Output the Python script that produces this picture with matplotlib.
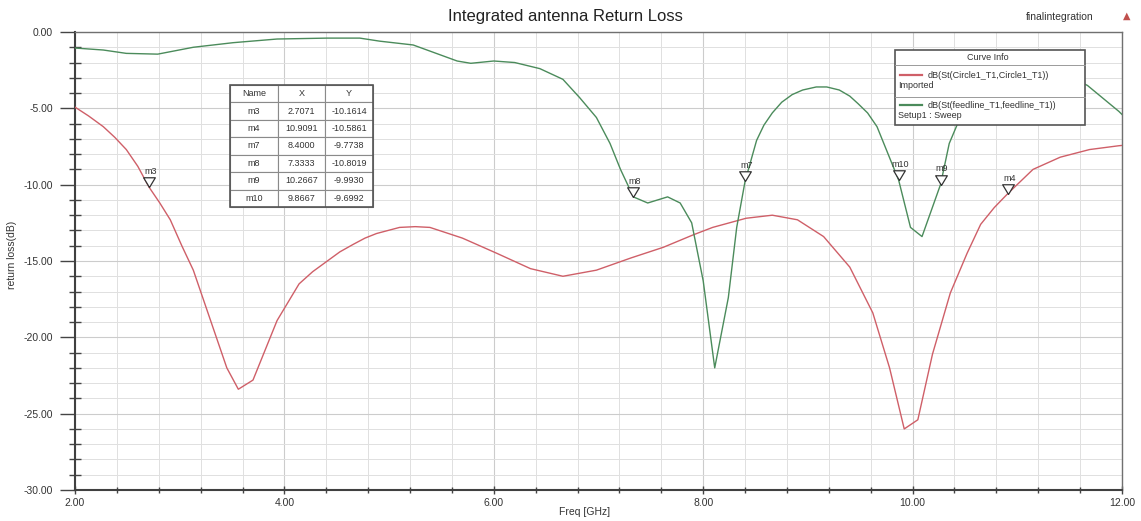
import matplotlib
matplotlib.use("Agg")
import matplotlib.pyplot as plt
from matplotlib.lines import Line2D
from matplotlib.patches import Rectangle
from matplotlib.ticker import MultipleLocator, FormatStrFormatter

# dB(St(Circle1_T1,Circle1_T1)) - Imported
freq_imported = [2.0, 2.13, 2.27, 2.38, 2.49, 2.6, 2.7071, 2.81, 2.91, 3.02,
                 3.13, 3.32, 3.45, 3.56, 3.70, 3.93, 4.14, 4.27, 4.41, 4.53,
                 4.66, 4.77, 4.88, 4.99, 5.10, 5.25, 5.39, 5.70, 6.03, 6.35,
                 6.66, 6.98, 7.31, 7.62, 7.90, 8.09, 8.41, 8.66, 8.90, 9.15,
                 9.40, 9.62, 9.78, 9.92, 10.05, 10.19, 10.36, 10.52, 10.65,
                 10.78, 10.9091, 11.15, 11.41, 11.69, 11.97, 12.0]
rl_imported = [-4.92, -5.5, -6.2, -6.9, -7.7, -8.8, -10.1614, -11.2, -12.3,
               -14.0, -15.6, -19.4, -22.0, -23.4, -22.8, -18.9, -16.5, -15.7,
               -15.0, -14.4, -13.9, -13.5, -13.2, -13.0, -12.8, -12.75, -12.8,
               -13.5, -14.5, -15.5, -16.0, -15.6, -14.8, -14.1, -13.3, -12.8,
               -12.2, -12.0, -12.3, -13.4, -15.4, -18.4, -22.0, -26.0, -25.4,
               -21.1, -17.1, -14.5, -12.6, -11.5, -10.5861, -9.0, -8.2, -7.7,
               -7.45, -7.43]

# dB(St(feedline_T1,feedline_T1)) - Setup1 : Sweep
freq_sweep = [2.0, 2.27, 2.49, 2.79, 3.13, 3.51, 3.93, 4.41, 4.72, 4.91, 5.23,
              5.65, 5.78, 6.0, 6.2, 6.44, 6.66, 6.82, 6.98, 7.11, 7.21, 7.3333,
              7.47, 7.66, 7.78, 7.89, 8.0, 8.11, 8.24, 8.32, 8.4, 8.51, 8.58,
              8.66, 8.75, 8.85, 8.95, 9.08, 9.18, 9.30, 9.40, 9.48, 9.57, 9.66,
              9.8667, 9.98, 10.09, 10.2667, 10.35, 10.43, 10.6, 10.8, 11.0,
              11.2, 11.4, 11.67, 11.97, 12.0]
rl_sweep = [-1.05, -1.18, -1.4, -1.45, -1.0, -0.7, -0.46, -0.4, -0.4, -0.6,
            -0.85, -1.9, -2.05, -1.9, -2.0, -2.4, -3.1, -4.3, -5.6, -7.3, -9.0,
            -10.8019, -11.2, -10.8, -11.2, -12.5, -16.3, -22.0, -17.4, -12.8,
            -9.7738, -7.1, -6.1, -5.3, -4.6, -4.1, -3.8, -3.6, -3.6, -3.8,
            -4.2, -4.7, -5.3, -6.2, -9.6992, -12.8, -13.4, -9.993, -7.3, -6.0,
            -4.0, -2.7, -2.1, -2.1, -2.6, -3.5, -5.2, -5.4]

marker_names = ["m3", "m4", "m7", "m8", "m9", "m10"]
marker_x = [2.7071, 10.9091, 8.4000, 7.3333, 10.2667, 9.8667]
marker_y = [-10.1614, -10.5861, -9.7738, -10.8019, -9.9930, -9.6992]

RED = "#cf5f68"
GREEN = "#4b8b5b"
W, H = 1141, 521
AX_L, AX_R, AX_T, AX_B = 75, 1122, 32, 490

plt.rcParams["font.family"] = ["Liberation Sans", "DejaVu Sans"]


def px(x, y):
    # pixel position -> axes fraction
    return (x - AX_L) / (AX_R - AX_L), (AX_B - y) / (AX_B - AX_T)


fig = plt.figure(figsize=(W / 100, H / 100), dpi=100)
ax = fig.add_axes([AX_L / W, 1 - AX_B / H, (AX_R - AX_L) / W, (AX_B - AX_T) / H])

ax.plot(freq_imported, rl_imported, color=RED, lw=1.0, zorder=3)
ax.plot(freq_sweep, rl_sweep, color=GREEN, lw=1.0, zorder=3)

tri = [(0, 0), (-0.6, 1), (0.6, 1), (0, 0)]
for name, x, y in zip(marker_names, marker_x, marker_y):
    ax.plot(x, y, marker=tri, ms=14, mfc="white", mec="#333333", mew=0.9,
            ls="none", zorder=4)
    ax.annotate(name, (x, y), xytext=(1, 8), textcoords="offset points",
                ha="center", va="bottom", fontsize=6.5, color="#333333")

ax.set_xlim(2, 12)
ax.set_ylim(-30, 0)
ax.xaxis.set_major_locator(MultipleLocator(2))
ax.xaxis.set_minor_locator(MultipleLocator(0.4))
ax.yaxis.set_major_locator(MultipleLocator(5))
ax.yaxis.set_minor_locator(MultipleLocator(1))
ax.xaxis.set_major_formatter(FormatStrFormatter("%.2f"))
ax.yaxis.set_major_formatter(FormatStrFormatter("%.2f"))
ax.grid(which="major", color="#cccccc", lw=0.8)
ax.grid(which="minor", color="#e0e0e0", lw=0.7)
ax.set_axisbelow(True)

ax.tick_params(axis="y", which="major", direction="out", length=11, width=1.0,
               pad=5, labelsize=7.5, labelcolor="#333333", color="#444444")
ax.tick_params(axis="y", which="minor", direction="inout", length=8, width=1.0,
               color="#444444")
ax.tick_params(axis="x", which="major", direction="inout", length=6, width=1.0,
               pad=3, labelsize=7.5, labelcolor="#333333", color="#444444")
ax.tick_params(axis="x", which="minor", direction="inout", length=5, width=1.0,
               color="#444444")
for side in ["left", "bottom"]:
    ax.spines[side].set_linewidth(1.5)
    ax.spines[side].set_color("#404040")
for side in ["top", "right"]:
    ax.spines[side].set_linewidth(1.0)
    ax.spines[side].set_color("#707070")

# marker table
cells = [[n, f"{x:.4f}", f"{y:.4f}"] for n, x, y in zip(marker_names, marker_x, marker_y)]
tx0, ty0 = px(230, 207)
tx1, ty1 = px(373, 85)
tab = ax.table(cellText=cells, colLabels=["Name", "X", "Y"], cellLoc="center",
               bbox=[tx0, ty0, tx1 - tx0, ty1 - ty0])
tab.auto_set_font_size(False)
tab.set_fontsize(6.5)
tab.set_zorder(6)
for cell in tab.get_celld().values():
    cell.set_edgecolor("#8a8a8a")
    cell.set_linewidth(0.8)
    cell.get_text().set_color("#333333")
ax.add_patch(Rectangle((tx0, ty0), tx1 - tx0, ty1 - ty0, transform=ax.transAxes,
                       fill=False, ec="#555555", lw=1.2, zorder=7))

# curve info box
lx0, ly0 = px(895, 125)
lx1, ly1 = px(1085, 50)
ax.add_patch(Rectangle((lx0, ly0), lx1 - lx0, ly1 - ly0, transform=ax.transAxes,
                       fc="white", ec="#555555", lw=1.2, zorder=6))
ax.text(*px(988, 58), "Curve Info", transform=ax.transAxes, ha="center",
        va="center", fontsize=6.5, color="#333333", zorder=7)
for yy in [65, 97]:
    ax.add_line(Line2D([lx0, lx1], [px(0, yy)[1]] * 2, transform=ax.transAxes,
                       color="#9a9a9a", lw=0.7, zorder=7))
entries = [(RED, 75, "dB(St(Circle1_T1,Circle1_T1))", "Imported"),
           (GREEN, 105, "dB(St(feedline_T1,feedline_T1))", "Setup1 : Sweep")]
for color, yy, label, sub in entries:
    ax.add_line(Line2D([px(900, 0)[0], px(922, 0)[0]], [px(0, yy)[1]] * 2,
                       transform=ax.transAxes, color=color, lw=1.6, zorder=7))
    ax.text(*px(928, yy), label, transform=ax.transAxes, ha="left",
            va="center", fontsize=6.5, color="#333333", zorder=7)
    ax.text(*px(898, yy + 11), sub, transform=ax.transAxes, ha="left",
            va="center", fontsize=6.5, color="#333333", zorder=7)

fig.text(565 / W, 1 - 16 / H, "Integrated antenna Return Loss", ha="center",
         va="center", fontsize=12, color="#222222")
fig.text(1060 / W, 1 - 17 / H, "finalintegration", ha="center", va="center",
         fontsize=7.5, color="#333333")
fig.text(1127 / W, 1 - 16 / H, "\u25b2", ha="center", va="center", fontsize=7,
         color="#c0504d", family="DejaVu Sans")
fig.text(585 / W, 1 - 512 / H, "Freq [GHz]", ha="center", va="center",
         fontsize=7.5, color="#333333")
fig.text(12 / W, 1 - 255 / H, "return loss(dB)", ha="center", va="center",
         rotation=90, fontsize=7.5, color="#333333")

fig.savefig("out.png", dpi=100)
